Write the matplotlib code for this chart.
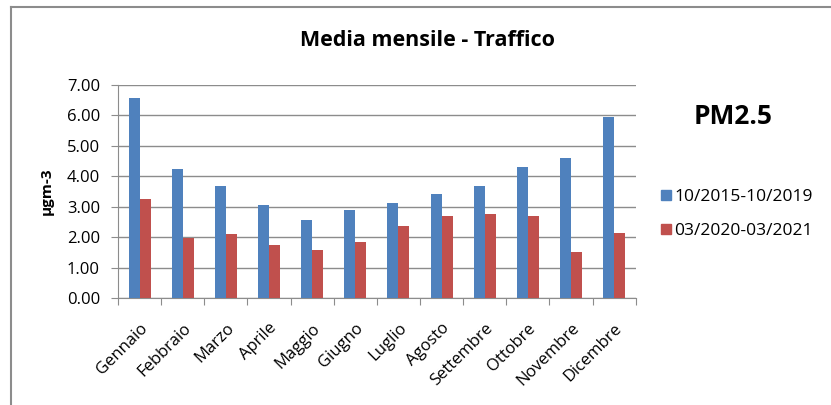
import numpy as np
import matplotlib.pyplot as plt
from matplotlib.lines import Line2D

plt.rcParams['font.family'] = ['Open Sans', 'DejaVu Sans']

# dati
mesi = ["Gennaio", "Febbraio", "Marzo", "Aprile", "Maggio", "Giugno",
        "Luglio", "Agosto", "Settembre", "Ottobre", "Novembre", "Dicembre"]
serie_2015_2019 = [6.57, 4.25, 3.69, 3.05, 2.56, 2.90, 3.13, 3.41, 3.69, 4.31, 4.61, 5.95]
serie_2020_2021 = [3.25, 1.98, 2.09, 1.74, 1.59, 1.85, 2.36, 2.71, 2.76, 2.71, 1.50, 2.14]
nomi_serie = ["10/2015-10/2019", "03/2020-03/2021"]
colori = ["#4F81BD", "#C0504D"]
y_ticks = np.arange(0, 8, 1)

fig = plt.figure(figsize=(8.31, 4.05), dpi=100)
ax = fig.add_axes([0.142, 0.264, 0.623, 0.526])

x = np.arange(len(mesi))
w = 0.255
ax.bar(x - w / 2, serie_2015_2019, w, color=colori[0], zorder=3)
ax.bar(x + w / 2, serie_2020_2021, w, color=colori[1], zorder=3)

ax.set_xlim(-0.5, len(mesi) - 0.5)
ax.set_ylim(0, 7)
ax.set_yticks(y_ticks)
ax.set_yticklabels([f"{v:.2f}" for v in y_ticks], fontsize=12)
ax.yaxis.grid(True, color="#8c8c8c", linewidth=1, zorder=0)

# tick delle categorie sui bordi
ax.set_xticks(np.arange(-0.5, len(mesi)), minor=False)
ax.set_xticklabels([])
ax.set_xticks(x, minor=True)
ax.set_xticklabels(mesi, minor=True, rotation=45, ha="right",
                   rotation_mode="anchor", fontsize=12)
ax.tick_params(axis="x", which="minor", length=0, pad=16)
ax.tick_params(axis="x", which="major", length=5, color="#8c8c8c")
ax.tick_params(axis="y", length=5, color="#8c8c8c", pad=8)

for s in ["top", "right"]:
    ax.spines[s].set_visible(False)
ax.spines["left"].set_color("#8c8c8c")
ax.spines["bottom"].set_color("#8c8c8c")

ax.set_ylabel("µgm-3", fontsize=11, fontweight="bold", labelpad=9)

fig.text(0.514, 0.90, "Media mensile - Traffico", ha="center", va="center",
         fontsize=15.5, fontweight="bold")
fig.text(0.882, 0.712, "PM2.5", ha="center", va="center",
         fontsize=19, fontweight="bold")

handles = [Line2D([], [], marker="s", linestyle="none", markersize=7,
                  color=c) for c in colori]
fig.legend(handles, nomi_serie, loc="center left", bbox_to_anchor=(0.78, 0.472),
           frameon=False, fontsize=12.5, handletextpad=0.0, labelspacing=1.0,
           handlelength=1.0, borderpad=0)

# cornice del grafico
fig.add_artist(Line2D([0.013, 0.013], [0, 0.983], color="#8c8c8c", linewidth=1.5))
fig.add_artist(Line2D([0.013, 1], [0.983, 0.983], color="#8c8c8c", linewidth=1.5))

fig.savefig("out.png", dpi=100)
